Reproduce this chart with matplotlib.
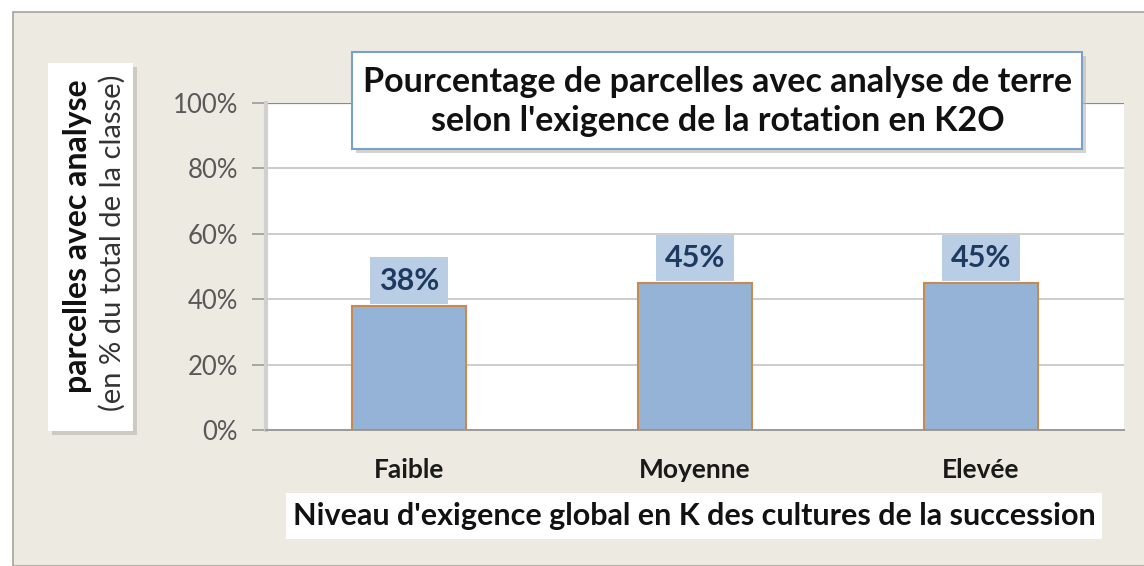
import matplotlib
matplotlib.use("Agg")
import matplotlib.pyplot as plt
from matplotlib.patches import Rectangle
from matplotlib.ticker import PercentFormatter

categories = ["Faible", "Moyenne", "Elevée"]
values = [0.38, 0.45, 0.45]
value_labels = ["38%", "45%", "45%"]
yticks = [0, 0.2, 0.4, 0.6, 0.8, 1.0]
title_lines = ["Pourcentage de parcelles avec analyse de terre",
               "selon l'exigence de la rotation en K2O"]
ylabel_bold = "parcelles avec analyse"
ylabel_normal = "(en % du total de la classe)"
xlabel = "Niveau d'exigence global en K des cultures de la succession"

FONT = "Lato"
W, H = 1144, 566
fig = plt.figure(figsize=(W / 100, H / 100), dpi=100)
fig.patch.set_facecolor("white")

def fx(px):
    return px / W

def fy(py):
    return 1 - py / H

def box(x0, y0, x1, y1, fc="white", ec="none", lw=1.0, shadow=True, z=1):
    if shadow:
        fig.patches.append(Rectangle((fx(x0 + 4), fy(y1 + 4)), fx(x1 - x0), (y1 - y0) / H,
                                     transform=fig.transFigure, facecolor="#b8b6b0",
                                     edgecolor="none", alpha=0.6, zorder=z - 0.1))
    fig.patches.append(Rectangle((fx(x0), fy(y1)), fx(x1 - x0), (y1 - y0) / H,
                                 transform=fig.transFigure, facecolor=fc,
                                 edgecolor=ec, linewidth=lw, zorder=z))

# outer panel
fig.patches.append(Rectangle((fx(13), 0), 1 - fx(13) + 0.01, fy(12), transform=fig.transFigure,
                             facecolor="#eceae1", edgecolor="#a8a49c", linewidth=1.2, zorder=0))

# axes
ax = fig.add_axes([fx(266), fy(430), fx(1124 - 266), (430 - 103) / H])
ax.set_facecolor("white")
ax.set_zorder(2)
x = list(range(len(categories)))
ax.bar(x, values, width=0.4, color="#95b3d7", edgecolor="#c98a50", linewidth=1.5, zorder=3)
ax.set_xlim(-0.5, 2.5)
ax.set_ylim(0, 1.0)
ax.set_yticks(yticks)
ax.yaxis.set_major_formatter(PercentFormatter(1.0, decimals=0))
ax.yaxis.grid(True, color="#c4c4c4", linewidth=1.2, zorder=0)
ax.set_axisbelow(True)
for s in ["top", "right"]:
    ax.spines[s].set_visible(False)
ax.spines["left"].set_color("#d0d0d0")
ax.spines["left"].set_linewidth(3)
ax.spines["bottom"].set_color("#9a9a9a")
ax.spines["bottom"].set_linewidth(1.4)
ax.axhline(1.0, color="#8a8a8a", linewidth=1.6, zorder=1)
ax.tick_params(axis="y", length=10, width=1.2, color="#9a9a9a", labelsize=18.5,
               labelcolor="#595959", pad=10)
ax.tick_params(axis="x", length=0, labelsize=19, pad=20)
ax.set_xticks(x)
ax.set_xticklabels(categories, fontweight="bold", color="#1a1a1a", family=FONT)
for lab in ax.get_yticklabels():
    lab.set_family(FONT)

for xi, v, lab in zip(x, values, value_labels):
    ax.annotate(lab, (xi, v), xytext=(0, 8), textcoords="offset points",
                ha="center", va="bottom", fontsize=22, fontweight="bold",
                color="#1f3a60", family=FONT, zorder=5,
                bbox=dict(boxstyle="square,pad=0.3", facecolor="#b9cde5", edgecolor="none"))

# title box
box(352, 52, 1082, 149, fc="white", ec="#7aa0cc", lw=1.5, z=5)
fig.text(fx(718), fy(82), title_lines[0], ha="center", va="center", fontsize=24.5,
         fontweight="bold", family=FONT, color="#111111", zorder=6)
fig.text(fx(718), fy(121), title_lines[1], ha="center", va="center", fontsize=24.5,
         fontweight="bold", family=FONT, color="#111111", zorder=6)

# y label box
box(48, 63, 133, 431, fc="white", z=1)
fig.text(fx(78), fy(236), ylabel_bold, rotation=90, ha="center", va="center", fontsize=23,
         fontweight="bold", family=FONT, color="#111111", zorder=2)
fig.text(fx(112), fy(243), ylabel_normal, rotation=90, ha="center", va="center", fontsize=21,
         family=FONT, color="#333333", zorder=2)

# x label box
box(286, 493, 1102, 539, fc="white", shadow=False, z=1)
fig.text(fx(694), fy(516), xlabel, ha="center", va="center", fontsize=22,
         fontweight="bold", family=FONT, color="#111111", zorder=2)

fig.savefig("out.png", dpi=100, facecolor=fig.get_facecolor())
